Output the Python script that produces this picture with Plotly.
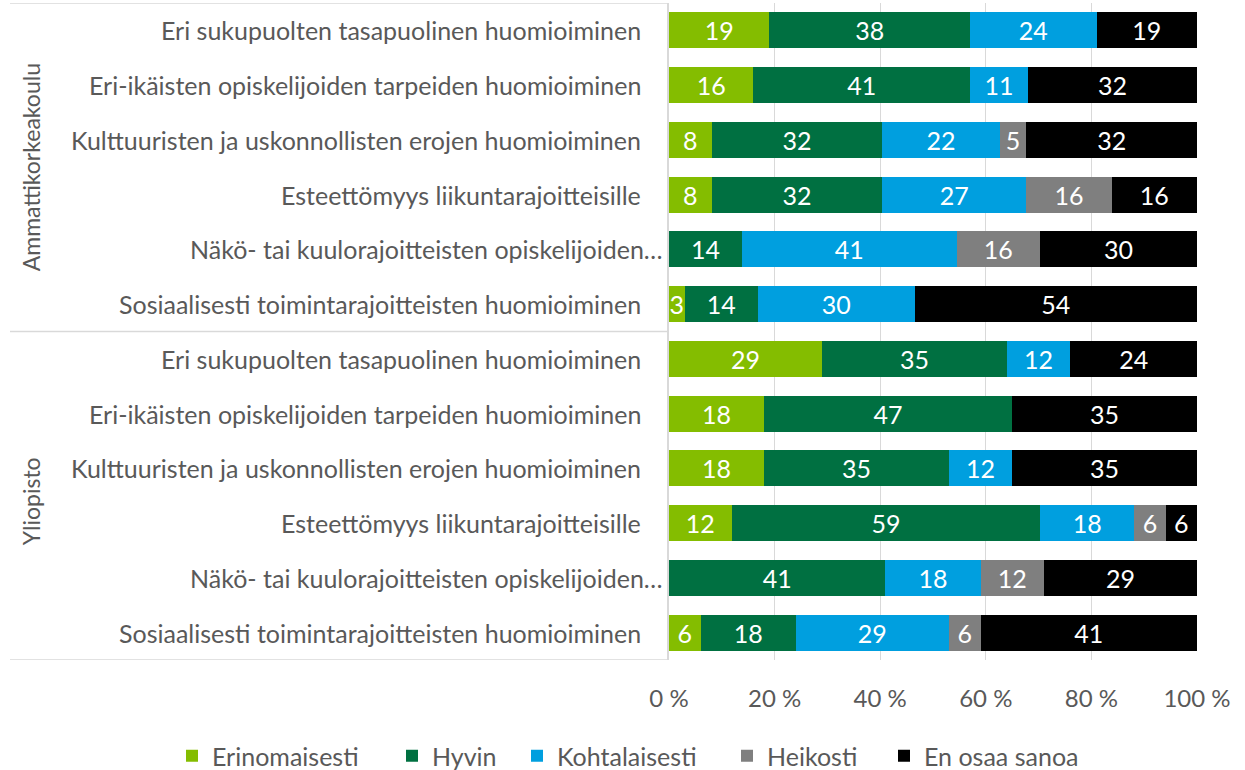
import plotly.graph_objects as go

labels = [
    "Eri sukupuolten tasapuolinen huomioiminen",
    "Eri-ikäisten opiskelijoiden tarpeiden huomioiminen",
    "Kulttuuristen ja uskonnollisten erojen huomioiminen",
    "Esteettömyys liikuntarajoitteisille",
    "Näkö- tai kuulorajoitteisten opiskelijoiden…",
    "Sosiaalisesti toimintarajoitteisten huomioiminen",
    "Eri sukupuolten tasapuolinen huomioiminen",
    "Eri-ikäisten opiskelijoiden tarpeiden huomioiminen",
    "Kulttuuristen ja uskonnollisten erojen huomioiminen",
    "Esteettömyys liikuntarajoitteisille",
    "Näkö- tai kuulorajoitteisten opiskelijoiden…",
    "Sosiaalisesti toimintarajoitteisten huomioiminen",
]
groups = ["Ammattikorkeakoulu", "Yliopisto"]

series_names = ["Erinomaisesti", "Hyvin", "Kohtalaisesti", "Heikosti", "En osaa sanoa"]
erinomaisesti = [19, 16, 8, 8, 0, 3, 29, 18, 18, 12, 0, 6]
hyvin = [38, 41, 32, 32, 14, 14, 35, 47, 35, 59, 41, 18]
kohtalaisesti = [24, 11, 22, 27, 41, 30, 12, 0, 12, 18, 18, 29]
heikosti = [0, 0, 5, 16, 16, 0, 0, 0, 0, 6, 12, 6]
en_osaa = [19, 32, 32, 16, 30, 54, 24, 35, 35, 6, 29, 41]
series_values = [erinomaisesti, hyvin, kohtalaisesti, heikosti, en_osaa]
colors = ["#84BD00", "#007041", "#009FDF", "#7F7F7F", "#000000"]

xticks = [0, 20, 40, 60, 80, 100]
xticktext = ["0 %", "20 %", "40 %", "60 %", "80 %", "100 %"]

FONT = "Lato"
GRAY = "#595959"
W, H = 1245, 770

rows = list(range(len(labels)))
legend_ids = ["legend", "legend2", "legend3", "legend4", "legend5"]
legend_marker_px = [192, 412, 537, 747, 904]

fig = go.Figure()
for name, vals, col, lid in zip(series_names, series_values, colors, legend_ids):
    fig.add_trace(go.Bar(
        y=rows, x=vals, name=name, orientation="h", legend=lid, showlegend=True,
        marker=dict(color=col, line=dict(width=0)),
        text=[str(v) if v else "" for v in vals],
        textposition="inside", insidetextanchor="middle", textangle=0,
        textfont=dict(color="white", size=25, family=FONT),
    ))

x0, x1 = 669 / W, 1197 / W
ytop, ybot = 3, 660
fig.update_layout(
    width=W, height=H,
    margin=dict(l=0, r=0, t=0, b=0, autoexpand=False),
    showlegend=True,
    barmode="stack", barnorm="percent", bargap=0.34,
    plot_bgcolor="white", paper_bgcolor="white",
    font=dict(family=FONT, color=GRAY, size=24),
    uniformtext=dict(minsize=25, mode="show"),
    xaxis=dict(domain=[x0, x1], range=[0, 100], tickvals=xticks, ticktext=xticktext,
               showgrid=True, gridcolor="#D9D9D9", gridwidth=1, zeroline=False,
               showline=False, ticks="", ticklabelstandoff=22, automargin=False,
               tickfont=dict(size=24, color=GRAY, family=FONT)),
    yaxis=dict(domain=[1 - ybot / H, 1 - ytop / H], range=[11.5, -0.5], automargin=False,
               tickvals=rows, ticktext=["" for _ in rows], showgrid=False,
               zeroline=False, showline=True, linecolor="#D9D9D9", linewidth=1.5, ticks=""),
)

for lid, px in zip(legend_ids, legend_marker_px):
    fig.update_layout({lid: dict(orientation="h", x=(px - 20) / W, xanchor="left",
                                 y=1 - 756 / H, yanchor="middle", itemwidth=30,
                                 bgcolor="rgba(0,0,0,0)", visible=True,
                                 font=dict(size=25, color=GRAY, family=FONT))})

# category labels
for i, lab in enumerate(labels):
    xr = 665 if lab.endswith("…") else 643
    fig.add_annotation(x=xr / W, xref="paper", y=i, yref="y", text=lab, showarrow=False,
                       xanchor="right", yanchor="middle",
                       font=dict(size=25, color=GRAY, family=FONT))

# group labels
fig.add_annotation(x=31 / W, xref="paper", y=2.5, yref="y", text=groups[0], textangle=-90,
                   showarrow=False, xanchor="center", yanchor="middle",
                   font=dict(size=23, color=GRAY, family=FONT))
fig.add_annotation(x=31 / W, xref="paper", y=8.6, yref="y", text=groups[1], textangle=-90,
                   showarrow=False, xanchor="center", yanchor="middle",
                   font=dict(size=23, color=GRAY, family=FONT))

# group divider lines
for yv in [-0.5, 5.5, 11.5]:
    fig.add_shape(type="line", xref="paper", yref="y", x0=10 / W, x1=x0, y0=yv, y1=yv,
                  line=dict(color="#D9D9D9", width=1.5))

fig.write_html("out.html", config={"displayModeBar": False},
               post_script="document.body.style.margin='0';")
